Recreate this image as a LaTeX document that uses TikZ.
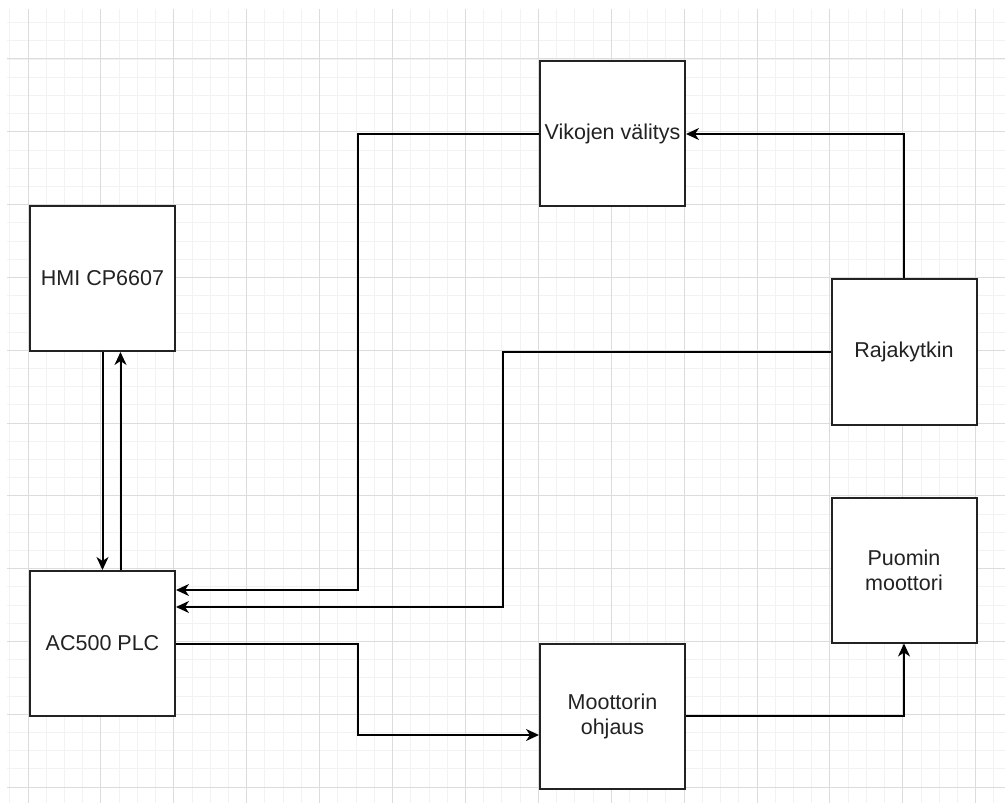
\documentclass[tikz,border=0pt]{standalone}
\usepackage{fontspec}
\setmainfont{Liberation Sans}
\usetikzlibrary{arrows.meta}
\definecolor{minorgrid}{HTML}{F2F2F2}
\definecolor{majorgrid}{HTML}{DCDCDC}
\definecolor{ink}{HTML}{222222}
\tikzset{
  blockbox/.style={draw=ink, line width=2pt, fill=white, minimum width=145pt, minimum height=145pt, inner sep=0pt, align=center, text=ink, font=\fontsize{21.5}{25}\selectfont},
  conn/.style={draw=black, line width=2pt, -{Stealth[length=13pt,width=12pt,inset=4pt]}}
}
\begin{document}
\begin{tikzpicture}[x=1pt,y=-1pt]
\useasboundingbox (0,0) rectangle (1005,805);
\fill[white] (0,0) rectangle (1005,805);
% grid
\begin{scope}
\clip (7,9) rectangle (1005,803);
\foreach \i in {-1,...,54} {
  \draw[minorgrid, line width=0.9pt] (28+\i*18.225,9) -- (28+\i*18.225,803);
}
\foreach \i in {-3,...,43} {
  \draw[minorgrid, line width=0.9pt] (7,59+\i*18.2) -- (1005,59+\i*18.2);
}
\foreach \i in {0,...,13} {
  \draw[majorgrid, line width=1pt] (28+\i*72.9,9) -- (28+\i*72.9,803);
}
\foreach \i in {0,...,10} {
  \draw[majorgrid, line width=1pt] (7,59+\i*72.8) -- (1005,59+\i*72.8);
}
\end{scope}
% blocks
\node[blockbox] (hmi) at (102.5,278.5) {HMI CP6607};
\node[blockbox] (plc) at (102.5,643.5) {AC500 PLC};
\node[blockbox] (vik) at (612.5,134) {Vikojen välitys};
\node[blockbox] (raj) at (904,352) {Rajakytkin};
\node[blockbox] (moo) at (612.5,716) {Moottorin\\ohjaus};
\node[blockbox] (puo) at (904,570) {Puomin\\moottori};
% connectors
\draw[conn] (hmi.south) -- (plc.north);
\draw[conn] ([xshift=18pt]plc.north) -- ([xshift=18pt]hmi.south);
\draw[conn] (vik.west) -| (358,590) -- (plc.east |- 358,590);
\draw[conn] (raj.west) -| (503,607) -- (plc.east |- 503,607);
\draw[conn] (raj.north) |- (vik.east);
\draw[conn] (plc.east) -| (358,735) -- (moo.west |- 358,735);
\draw[conn] (moo.east) -| (puo.south);
\end{tikzpicture}
\end{document}
